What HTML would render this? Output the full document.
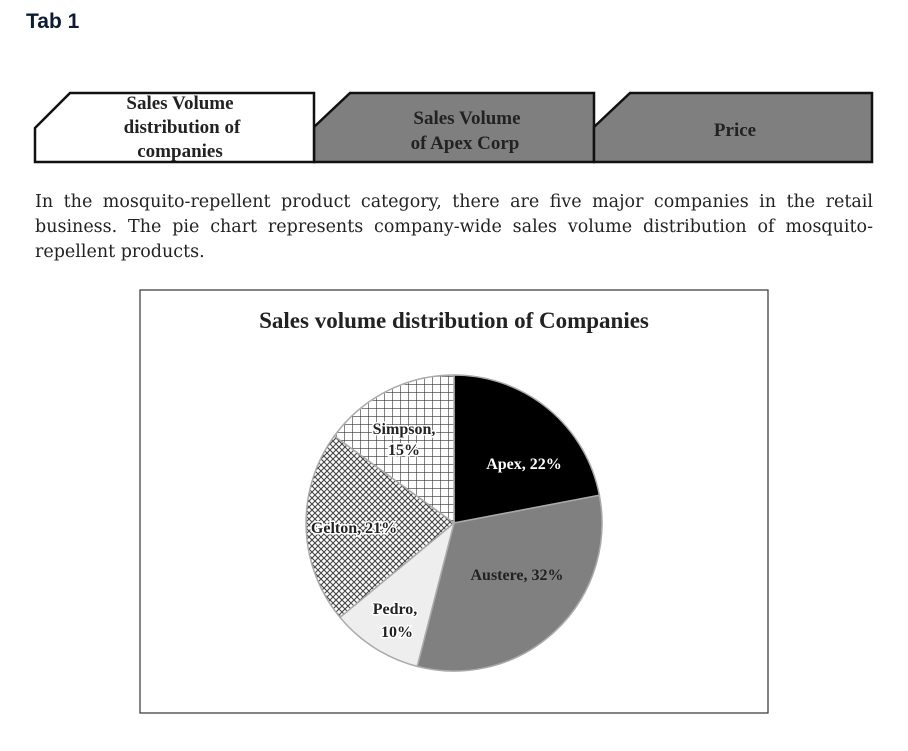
<!DOCTYPE html>
<html><head><style>
body{margin:0;background:#fff;width:908px;height:751px;overflow:hidden;position:relative;font-family:"Liberation Serif",serif}
.h{position:absolute;left:26px;top:10px;font:bold 21px "Liberation Sans",sans-serif;color:#0d1b33}
.p{position:absolute;left:35px;top:190px;width:838px;font-family:"DejaVu Serif",serif;font-size:17.5px;line-height:25px;color:#222}
.p span{display:block;text-align:justify;text-align-last:justify;white-space:nowrap}
.p span.l{text-align-last:left}
</style></head><body>
<div class="h">Tab 1</div>
<svg width="908" height="751" style="position:absolute;left:0;top:0">
<defs>
<pattern id="grid" width="8" height="8" patternUnits="userSpaceOnUse"><rect width="8" height="8" fill="#fff"/><path d="M0 0H8M0 0V8" stroke="#333" stroke-width="1.2"/></pattern>
<pattern id="chk" width="6" height="6" patternUnits="userSpaceOnUse"><rect width="6" height="6" fill="#fff"/><path d="M0 0L6 6M6 0L0 6" stroke="#444" stroke-width="1.1"/></pattern>
</defs>
<g stroke="#111" stroke-width="2.5">
<path d="M314 162V127L350 93H594V162Z" fill="#7f7f7f"/>
<path d="M594 162V127L630 93H872V162Z" fill="#7f7f7f"/>
<path d="M35 162V128L70 93H314V162Z" fill="#fff"/>
</g>
<g font-family="Liberation Serif,serif" font-weight="bold" font-size="19" fill="#222" text-anchor="middle">
<text x="180" y="109">Sales Volume</text>
<text x="182" y="133">distribution of</text>
<text x="180" y="157">companies</text>
<text x="467" y="124">Sales Volume</text>
<text x="465" y="149">of Apex Corp</text>
<text x="735" y="136">Price</text>
</g>
<rect x="140" y="290" width="628" height="423" fill="#fff" stroke="#333" stroke-width="1.2"/>
<text x="454" y="328" text-anchor="middle" font-family="Liberation Serif,serif" font-weight="bold" font-size="23" fill="#222">Sales volume distribution of Companies</text>
<g stroke="#aaa" stroke-width="1.5">
<path d="M454 523L454 375A148 148 0 0 1 599.4 495.3Z" fill="#000"/>
<path d="M454 523L599.4 495.3A148 148 0 0 1 417.2 666.4Z" fill="#808080"/>
<path d="M454 523L417.2 666.4A148 148 0 0 1 340 617.3Z" fill="#eee"/>
<path d="M454 523L340 617.3A148 148 0 0 1 334.3 436Z" fill="url(#chk)"/>
<path d="M454 523L334.3 436A148 148 0 0 1 454 375Z" fill="url(#grid)"/>
</g>
<g font-family="Liberation Serif,serif" font-weight="bold" font-size="16" text-anchor="middle" fill="#222" stroke="#fff" stroke-width="3" paint-order="stroke">
<text x="524" y="469" fill="#fff" stroke="none">Apex, 22%</text>
<text x="517" y="580" stroke="none">Austere, 32%</text>
<text x="395" y="614">Pedro,</text>
<text x="397" y="637">10%</text>
<text x="354" y="533">Gelton, 21%</text>
<text x="404" y="434">Simpson,</text>
<text x="404" y="455">15%</text>
</g>
</svg>
<div class="p"><span>In the mosquito-repellent product category, there are five major companies in the retail</span><span>business. The pie chart represents company-wide sales volume distribution of mosquito-</span><span class="l">repellent products.</span></div>
</body></html>
